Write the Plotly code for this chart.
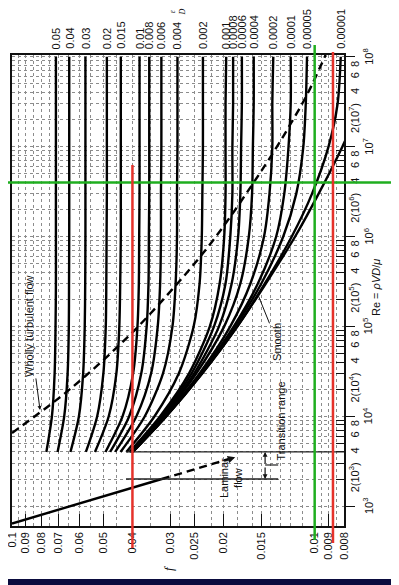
import math
import plotly.graph_objects as go

# ---------------- data ----------------
re_grid = [4e3, 1e4, 3e4, 1e5, 3e5, 1e6, 3e6, 1e7, 3e7, 1e8]

rough_labels = ["0.05", "0.04", "0.03", "0.02", "0.015", "0.01", "0.008", "0.006", "0.004",
                "0.002", "0.001", "0.0008", "0.0006", "0.0004", "0.0002", "0.0001", "0.00005", "0.00001"]

f_005 = [0.0770, 0.0738, 0.0723, 0.0718, 0.0716, 0.0716, 0.0716, 0.0716, 0.0716, 0.0716]
f_004 = [0.0707, 0.0672, 0.0655, 0.0649, 0.0648, 0.0647, 0.0647, 0.0647, 0.0647, 0.0647]
f_003 = [0.0641, 0.0601, 0.0582, 0.0575, 0.0573, 0.0572, 0.0572, 0.0572, 0.0572, 0.0572]
f_002 = [0.0570, 0.0523, 0.0499, 0.0490, 0.0488, 0.0487, 0.0486, 0.0486, 0.0486, 0.0486]
f_0015 = [0.0532, 0.0479, 0.0452, 0.0442, 0.0439, 0.0437, 0.0437, 0.0437, 0.0437, 0.0437]
f_001 = [0.0491, 0.0431, 0.0398, 0.0385, 0.0381, 0.0380, 0.0379, 0.0379, 0.0379, 0.0379]
f_0008 = [0.0474, 0.0410, 0.0374, 0.0359, 0.0354, 0.0353, 0.0352, 0.0352, 0.0352, 0.0352]
f_0006 = [0.0456, 0.0388, 0.0347, 0.0330, 0.0324, 0.0322, 0.0322, 0.0321, 0.0321, 0.0321]
f_0004 = [0.0438, 0.0364, 0.0317, 0.0295, 0.0288, 0.0285, 0.0285, 0.0284, 0.0284, 0.0284]
f_0002 = [0.0419, 0.0338, 0.0281, 0.0251, 0.0240, 0.0236, 0.0235, 0.0234, 0.0234, 0.0234]
f_0001 = [0.0409, 0.0324, 0.0260, 0.0222, 0.0206, 0.0199, 0.0197, 0.0197, 0.0197, 0.0196]
f_00008 = [0.0407, 0.0321, 0.0255, 0.0215, 0.0197, 0.0190, 0.0187, 0.0187, 0.0186, 0.0186]
f_00006 = [0.0405, 0.0318, 0.0250, 0.0207, 0.0188, 0.0179, 0.0176, 0.0175, 0.0174, 0.0174]
f_00004 = [0.0403, 0.0315, 0.0246, 0.0199, 0.0176, 0.0165, 0.0161, 0.0160, 0.0159, 0.0159]
f_00002 = [0.0401, 0.0312, 0.0240, 0.0190, 0.0163, 0.0147, 0.0141, 0.0138, 0.0138, 0.0137]
f_00001 = [0.0400, 0.0310, 0.0238, 0.0185, 0.0154, 0.0134, 0.0126, 0.0122, 0.0120, 0.0120]
f_000005 = [0.0400, 0.0310, 0.0236, 0.0183, 0.0150, 0.0127, 0.0115, 0.0109, 0.0107, 0.0106]
f_000001 = [0.0399, 0.0309, 0.0235, 0.0180, 0.0146, 0.0119, 0.0102, 0.0090, 0.0084, 0.0082]
f_smooth = [0.0399, 0.0309, 0.0235, 0.0180, 0.0145, 0.0116, 0.0097, 0.0081, 0.0070, 0.0059]

rough_series = [f_005, f_004, f_003, f_002, f_0015, f_001, f_0008, f_0006, f_0004, f_0002,
                f_0001, f_00008, f_00006, f_00004, f_00002, f_00001, f_000005, f_000001]

# wholly turbulent boundary (dashed)
turb_f = [0.1, 0.0716, 0.0572, 0.0437, 0.0379, 0.0284, 0.0234, 0.0196, 0.0159, 0.0137, 0.0120, 0.01055, 0.0092]
turb_re = [6.5e3, 1.5e4, 2.8e4, 6.4e4, 1.03e5, 3.0e5, 6.5e5, 1.43e6, 4.0e6, 8.6e6, 1.8e7, 3.9e7, 1.05e8]

# laminar flow
lam_re = [640, 2000]
lam_f = [0.1, 0.032]
lam_ext_re = [2000, 3500]
lam_ext_f = [0.032, 0.0183]

# axis ticks
f_tick_vals = [0.1, 0.09, 0.08, 0.07, 0.06, 0.05, 0.04, 0.03, 0.025, 0.02, 0.015, 0.01, 0.009, 0.008]
f_tick_text = ["0.1", "0.09", "0.08", "0.07", "0.06", "0.05", "0.04", "0.03", "0.025", "0.02",
               "0.015", "0.01", "0.009", "0.008"]
f_minor_vals = [0.095, 0.085, 0.075, 0.065, 0.055, 0.045, 0.035, 0.028, 0.022, 0.018, 0.016,
                0.014, 0.013, 0.012, 0.011, 0.0095, 0.0085]

re_decades = [1e3, 1e4, 1e5, 1e6, 1e7, 1e8]
re_decade_text = ["10<sup>3</sup>", "10<sup>4</sup>", "10<sup>5</sup>", "10<sup>6</sup>",
                  "10<sup>7</sup>", "10<sup>8</sup>"]
re_mult = [2, 3, 4, 5, 6, 7, 8, 9]
re_mult_text = ["2(10<sup>{e}</sup>)", "", "4", "", "6", "", "8", ""]

# overlay lines
green_f = 0.01
green_re = 4e6
red_f = [0.04, 0.0087]

# ---------------- figure ----------------
# the page body adds an 8 px offset, so margins are shifted to keep window positions
OFF = 8
W, H = 399, 585
ML, MR, MT, MB = 12 - OFF, 55 + OFF, 55 - OFF, 59 + OFF
PW, PH = W - ML - MR, H - MT - MB
NAVY = "#0a0b3e"
FONT = "Liberation Sans, Arial, sans-serif"

def px_x(p):
    # window pixel -> paper x
    return (p - OFF - ML) / PW

def px_y(p):
    # window pixel -> paper y
    return (H - MB - (p - OFF)) / PH

fig = go.Figure()

for lab, fs in zip(rough_labels, rough_series):
    fig.add_trace(go.Scatter(x=fs, y=re_grid, mode="lines", line=dict(color="black", width=2.4, shape="spline", smoothing=0.8),
                             hoverinfo="skip", showlegend=False))
fig.add_trace(go.Scatter(x=f_smooth, y=re_grid, mode="lines", line=dict(color="black", width=2.4, shape="spline", smoothing=0.8),
                         hoverinfo="skip", showlegend=False))
fig.add_trace(go.Scatter(x=turb_f, y=turb_re, mode="lines", line=dict(color="black", width=2.4, dash="8px,5px", shape="spline"),
                         hoverinfo="skip", showlegend=False))
fig.add_trace(go.Scatter(x=lam_f, y=lam_re, mode="lines", line=dict(color="black", width=2.4),
                         hoverinfo="skip", showlegend=False))
fig.add_trace(go.Scatter(x=lam_ext_f, y=lam_ext_re, mode="lines", line=dict(color="black", width=2.4, dash="8px,5px"),
                         hoverinfo="skip", showlegend=False))

re_tick_vals, re_tick_text = [], []
for d in range(3, 8):
    for m, t in zip(re_mult, re_mult_text):
        re_tick_vals.append(m * 10 ** d)
        re_tick_text.append(t.format(e=d))

shapes = []
# white page on navy background (navy band at the bottom of the window)
shapes.append(dict(type="rect", xref="paper", yref="paper", x0=px_x(0), x1=px_x(W + 20), y0=px_y(579), y1=px_y(-5),
                   fillcolor="white", line=dict(width=0), layer="below"))
# transition range lines
shapes.append(dict(type="line", xref="x", yref="y", x0=0.042, x1=0.008, y0=4000, y1=4000, line=dict(color="#222", width=1.3)))
shapes.append(dict(type="line", xref="x", yref="y", x0=0.042, x1=0.0132, y0=2000, y1=2000, line=dict(color="#222", width=1.3)))
shapes.append(dict(type="line", xref="x", yref="y", x0=0.01458, x1=0.0132, y0=2865, y1=2865, line=dict(color="#222", width=1.2)))
# overlay lines
shapes.append(dict(type="line", xref="x", yref="paper", x0=green_f, x1=green_f, y0=px_y(540), y1=px_y(45),
                   line=dict(color="#1fae1f", width=2.5)))
shapes.append(dict(type="line", xref="paper", yref="y", x0=px_x(0), x1=px_x(W + 10), y0=green_re, y1=green_re,
                   line=dict(color="#1fae1f", width=2.5)))
shapes.append(dict(type="line", xref="x", yref="paper", x0=red_f[0], x1=red_f[0], y0=px_y(548), y1=px_y(165),
                   line=dict(color="#e5322b", width=2.5)))
shapes.append(dict(type="line", xref="x", yref="paper", x0=red_f[1], x1=red_f[1], y0=px_y(543), y1=px_y(52),
                   line=dict(color="#e5322b", width=2.5)))

ann = []
for lab, fs in zip(rough_labels, rough_series):
    ann.append(dict(x=math.log10(fs[-1]), y=px_y(51), xref="x", yref="paper", text=lab, showarrow=False,
                    textangle=-90, xanchor="center", yanchor="bottom", font=dict(size=11, family=FONT, color="#111")))
for v, t in zip(re_decades, re_decade_text):
    ann.append(dict(x=px_x(368), y=math.log10(v), xref="paper", yref="y", text=t, showarrow=False,
                    textangle=-90, xanchor="center", yanchor="middle", font=dict(size=11, family=FONT, color="#111")))
ann.append(dict(x=px_x(384), y=px_y(288), xref="paper", yref="paper", text="Re = <i>ρVD</i>/<i>μ</i>", showarrow=False,
                textangle=-90, font=dict(size=11, family=FONT, color="#111")))
ann.append(dict(x=px_x(168), y=px_y(573), xref="paper", yref="paper", text="<i>f</i>", showarrow=False,
                textangle=-90, font=dict(size=13, family="Liberation Serif, serif", color="#111")))
ann.append(dict(x=px_x(177), y=px_y(7), xref="paper", yref="paper", text="<i>ε</i><br><i>D</i>", showarrow=False,
                textangle=-90, font=dict(size=8, family="Liberation Serif, serif", color="#111")))
ann.append(dict(x=math.log10(0.0808), y=4.07, xref="x", yref="y", text="Wholly turbulent flow", showarrow=True,
                ax=-11, ay=-84, arrowhead=2, arrowsize=0.8, arrowwidth=1, arrowcolor="#111", textangle=-90,
                font=dict(size=11, family=FONT, color="#111")))
ann.append(dict(x=math.log10(0.01539), y=math.log10(2.24e5), xref="x", yref="y", text="Smooth", showarrow=True,
                ax=19, ay=47, arrowhead=0, arrowwidth=1, arrowcolor="#111", textangle=-90,
                font=dict(size=11, family=FONT, color="#111")))
ann.append(dict(x=px_x(288), y=px_y(463), xref="paper", yref="paper", text="Transition range", showarrow=False,
                textangle=-90, font=dict(size=11, family=FONT, color="#111")))
ann.append(dict(x=px_x(246), y=px_y(500), xref="paper", yref="paper", text="Laminar<br>flow", showarrow=False,
                textangle=-90, font=dict(size=11, family=FONT, color="#111")))
ann.append(dict(x=math.log10(0.01458), y=math.log10(4000), xref="x", yref="y", text="", showarrow=True,
                ax=0, ay=13, arrowhead=2, arrowsize=0.8, arrowwidth=1.2, arrowcolor="#111"))
ann.append(dict(x=math.log10(0.01458), y=math.log10(2000), xref="x", yref="y", text="", showarrow=True,
                ax=0, ay=-13, arrowhead=2, arrowsize=0.8, arrowwidth=1.2, arrowcolor="#111"))
ann.append(dict(x=math.log10(lam_ext_f[-1]), y=math.log10(lam_ext_re[-1]), xref="x", yref="y", text="", showarrow=True,
                ax=-9, ay=3, arrowhead=2, arrowsize=1, arrowwidth=1.5, arrowcolor="#111"))

GRID = "#8c8c8c"
fig.update_layout(
    width=W, height=H, margin=dict(l=ML, r=MR, t=MT, b=MB, pad=0, autoexpand=False),
    paper_bgcolor=NAVY, plot_bgcolor="white", showlegend=False,
    font=dict(family=FONT, size=11, color="#111"),
    shapes=shapes, annotations=ann,
    xaxis=dict(type="log", range=[math.log10(0.1), math.log10(0.008)], tickmode="array", automargin=False,
               ticklabeloverflow="allow",
               tickvals=f_tick_vals, ticktext=f_tick_text, tickangle=-90, ticks="inside", ticklen=12,
               tickwidth=1.3, tickcolor="#111", showline=True, linecolor="#111", linewidth=1.6, mirror=True,
               showgrid=True, gridcolor=GRID, griddash="dot", gridwidth=1, zeroline=False,
               tickfont=dict(size=11, family=FONT, color="#111"),
               minor=dict(tickmode="array", tickvals=f_minor_vals, ticks="", showgrid=True,
                          gridcolor=GRID, griddash="dot", gridwidth=1)),
    yaxis=dict(type="log", range=[math.log10(600), 8.02], side="right", tickmode="array", automargin=False,
               ticklabeloverflow="allow",
               tickvals=re_tick_vals, ticktext=re_tick_text, tickangle=-90, ticks="inside", ticklen=8,
               tickwidth=1.3, tickcolor="#111", showline=True, linecolor="#111", linewidth=1.6, mirror=True,
               showgrid=True, gridcolor=GRID, griddash="dot", gridwidth=1, zeroline=False,
               tickfont=dict(size=11, family=FONT, color="#111"),
               minor=dict(tickmode="array", tickvals=re_decades, ticks="outside", ticklen=9, tickwidth=1.3,
                          tickcolor="#111", showgrid=True, gridcolor=GRID, griddash="dot", gridwidth=1)),
)

fig.write_html("out.html")
